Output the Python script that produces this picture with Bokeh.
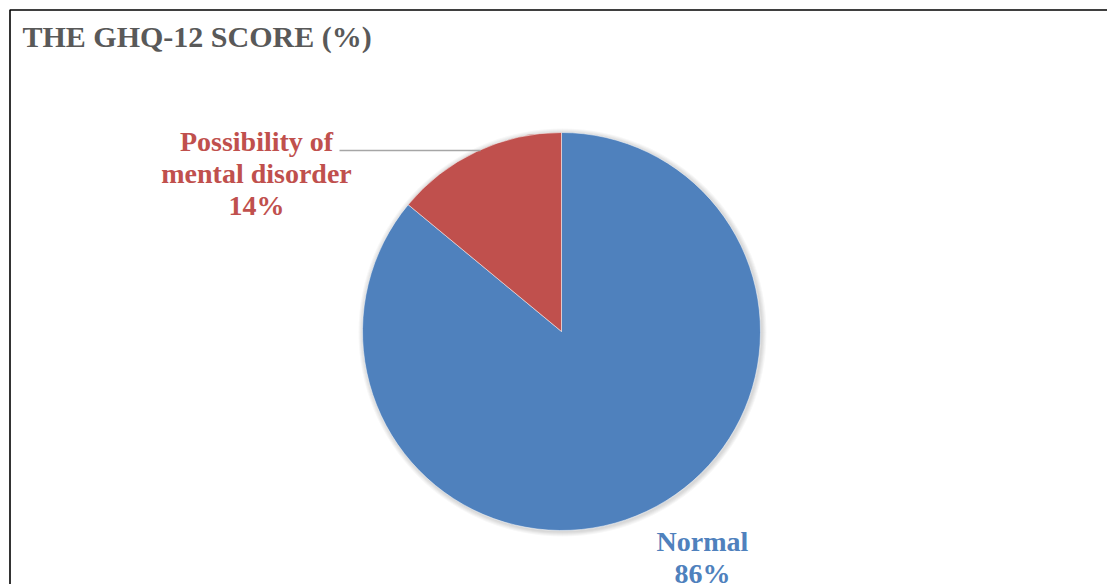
import math

from bokeh.core.properties import value
from bokeh.embed import file_html
from bokeh.models import ColumnDataSource, Range1d
from bokeh.plotting import figure
from bokeh.resources import INLINE

# --- data ---------------------------------------------------------------
categories = ["Normal", "Possibility of\nmental disorder"]
shares = [86, 14]
slice_colors = ["#4F81BD", "#C0504D"]
title_text = "THE GHQ-12 SCORE (%)"

# --- canvas -------------------------------------------------------------
W, H = 1107, 584
p = figure(
    width=W, height=H,
    x_range=Range1d(0, W), y_range=Range1d(0, H),
    x_axis_location=None, y_axis_location=None,
    output_backend="svg", toolbar_location=None,
    min_border=0, outline_line_color=None,
    background_fill_color="white", border_fill_color="white",
)
p.grid.visible = False

SERIF = value("Liberation Serif")

# chart frame (left and top edges visible, the rest runs off the page)
p.quad(left=9.5, right=W + 50, top=H - 9.5, bottom=-50,
       fill_color=None, line_color="black", line_width=1.6)

# title
p.text(x=[22], y=[H - 36], text=[title_text], text_font=SERIF,
       text_font_size="30px", text_font_style="bold", text_color="#595959",
       text_align="left", text_baseline="middle")

# --- pie ----------------------------------------------------------------
cx, cy, r = 561, H - 331, 199

# soft drop shadow around the pie
for k in range(1, 6):
    p.circle(x=[cx + 1], y=[cy - 1], radius=r + k, fill_color="black",
             fill_alpha=0.03, line_color=None)

total = float(sum(shares))
starts, ends, cum = [], [], 0.0
for v in shares:
    starts.append(math.pi / 2 - 2 * math.pi * cum / total)
    cum += v
    ends.append(math.pi / 2 - 2 * math.pi * cum / total)

src = ColumnDataSource(dict(start=starts, end=ends, color=slice_colors,
                            cat=categories, share=shares))
p.wedge(x=cx, y=cy, radius=r, start_angle="start", end_angle="end",
        direction="clock", fill_color="color", line_color="white",
        line_width=0.5, source=src)

# --- data labels --------------------------------------------------------
label_anchor = [(702, H - 541), (256, H - 141)]   # first-line centres
line_step = 32
for cat, v, col, (lx, ly) in zip(categories, shares, slice_colors, label_anchor):
    lines = cat.split("\n") + [f"{v}%"]
    p.text(x=[lx] * len(lines), y=[ly - i * line_step for i in range(len(lines))],
           text=lines, text_font=SERIF, text_font_size="28px",
           text_font_style="bold", text_color=col,
           text_align="center", text_baseline="middle")

# leader line from the small slice's label to its edge
p.line(x=[339, 480], y=[H - 150, H - 150], line_color="#A6A6A6", line_width=1.5)

open("out.html", "w").write(file_html(p, INLINE))
